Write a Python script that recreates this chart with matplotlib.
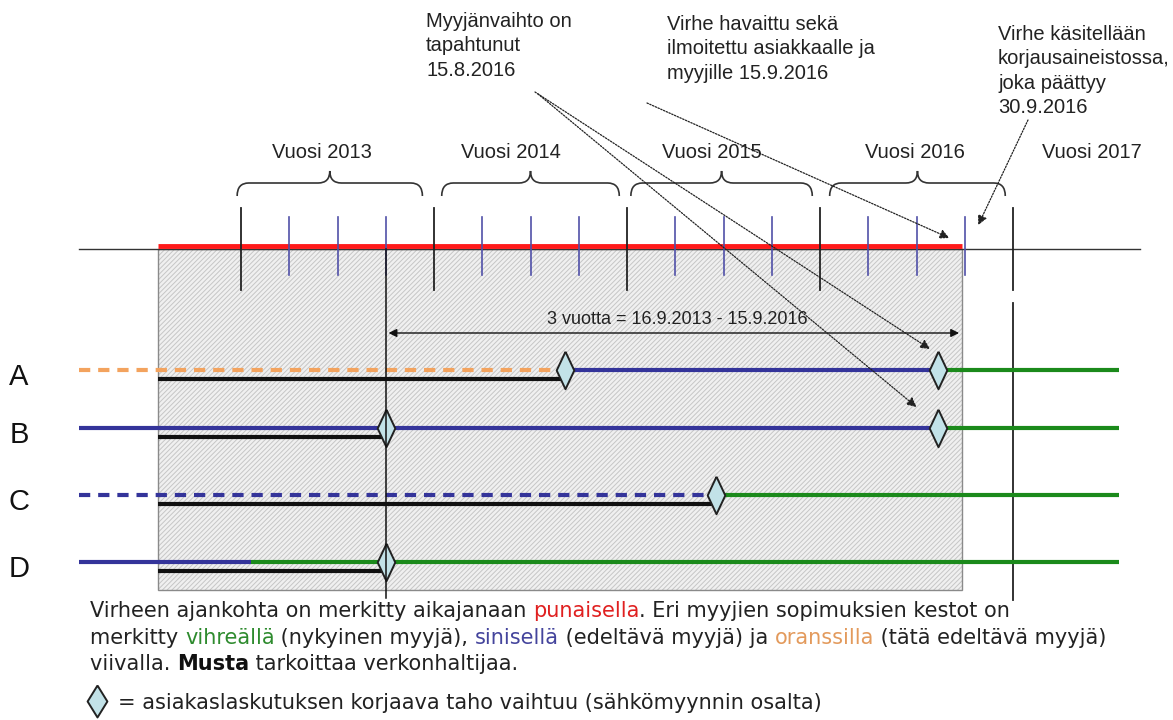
import numpy as np
import matplotlib
matplotlib.use("Agg")
import matplotlib.pyplot as plt
from matplotlib.path import Path
from matplotlib.patches import PathPatch, Rectangle

plt.rcParams['font.family'] = ['Liberation Sans', 'DejaVu Sans']
plt.rcParams['hatch.linewidth'] = 0.7

# aikajana (vuosina)
year_starts = [2013, 2014, 2015, 2016, 2017]
year_labels = ['Vuosi 2013', 'Vuosi 2014', 'Vuosi 2015', 'Vuosi 2016', 'Vuosi 2017']
year_label_x = [2013.42, 2014.40, 2015.44, 2016.49, 2017.41]
brace_spans = [(2012.98, 2013.94), (2014.04, 2014.96), (2015.02, 2015.96), (2016.05, 2016.96)]
quarters = [y + q for y in [2013, 2014, 2015, 2016] for q in (0.25, 0.5, 0.75)]

line_start = 2012.16
line_end = 2017.55
axis_end = 2017.66
error_start = 2012.57
error_end = 2016.735
three_years = 2013.75

# rivit A-D
row_labels = ['A', 'B', 'C', 'D']
row_y = [370, 428, 495, 562]
row_segments = [
    [(line_start, 2014.68, 'orange', True), (2014.68, 2016.61, 'blue', False), (2016.61, line_end, 'green', False)],
    [(line_start, 2016.61, 'blue', False), (2016.61, line_end, 'green', False)],
    [(line_start, 2015.46, 'blue', True), (2015.46, line_end, 'green', False)],
    [(line_start, 2013.05, 'blue', False), (2013.05, line_end, 'green', False)],
]
black_end = [2014.68, 2013.75, 2015.46, 2013.75]
diamonds = [[2014.68, 2016.61], [2013.75, 2016.61], [2015.46], [2013.75]]

colors = {'orange': '#f3a35e', 'blue': '#34349a', 'green': '#1b8a1b', 'red': '#ff1a1a'}
dia = [(0, 1), (0.47, 0), (0, -1), (-0.47, 0), (0, 1)]

fig = plt.figure(figsize=(11.73, 7.2), dpi=100)
px = fig.add_axes([0, 0, 1, 1])
px.set_xlim(0, 1173)
px.set_ylim(720, 0)
px.axis('off')
ax = fig.add_axes([0, 0, 1, 1])
ax.set_xlim(2013 - 241 / 193, 2013 + 932 / 193)
ax.set_ylim(720, 0)
ax.axis('off')

# virhe-alue
ax.add_patch(Rectangle((error_start, 249), error_end - error_start, 341,
                       facecolor='#f0f0f0', edgecolor='#c6c6c6', hatch='///////', lw=0, zorder=1))
ax.add_patch(Rectangle((error_start, 249), error_end - error_start, 341,
                       fill=False, edgecolor='#8a8a8a', lw=1, zorder=2))

# aikajana
ax.plot([line_start, axis_end], [249, 249], color='#333333', lw=1, zorder=3)
ax.plot([error_start, error_end], [246, 246], color=colors['red'], lw=3.5, zorder=4, solid_capstyle='butt')
for y in year_starts:
    ax.plot([y, y], [208, 290], color='#222222', lw=1.3, zorder=5)
ax.plot([2017, 2017], [303, 600], color='#222222', lw=1.3, zorder=5)
for q in quarters:
    ax.plot([q, q], [217, 275], color='#5050a8', lw=1.2, zorder=5)
ax.plot([three_years, three_years], [249, 598], color='#111111', lw=1.1, zorder=8)

# aaltosulkeet
for x0, x1 in brace_spans:
    xc = (x0 + x1) / 2
    r = 0.06
    verts = [(x0, 196), (x0, 183), (x0 + r, 183), (xc - r, 183), (xc, 183), (xc, 171),
             (xc, 183), (xc + r, 183), (x1 - r, 183), (x1, 183), (x1, 196)]
    codes = [Path.MOVETO, Path.CURVE3, Path.CURVE3, Path.LINETO, Path.CURVE3, Path.CURVE3,
             Path.CURVE3, Path.CURVE3, Path.LINETO, Path.CURVE3, Path.CURVE3]
    ax.add_patch(PathPatch(Path(verts, codes), fill=False, edgecolor='#333333', lw=1.2))
for lab, x in zip(year_labels, year_label_x):
    ax.text(x, 152, lab, ha='center', va='center', fontsize=14.5, color='#222222')

# 3 vuotta
ax.annotate('', xy=(error_end, 333), xytext=(three_years, 333),
            arrowprops=dict(arrowstyle='<|-|>', color='#111111', lw=1, mutation_scale=12), zorder=6)
ax.text((three_years + error_end) / 2 + 0.02, 320, '3 vuotta = 16.9.2013 - 15.9.2016',
        ha='center', va='center', fontsize=13, color='#222222', zorder=6)

# rivit
for lab, y, segs, be, ds in zip(row_labels, row_y, row_segments, black_end, diamonds):
    px.text(19, y + 7, lab, ha='center', va='center', fontsize=21, color='#111111')
    for x0, x1, c, dashed in segs:
        if dashed:
            ax.plot([x0, x1], [y, y], color=colors[c], lw=3, dashes=(2.7, 1.9), zorder=6)
        else:
            ax.plot([x0, x1], [y, y], color=colors[c], lw=3, zorder=6, solid_capstyle='butt')
    ax.plot([error_start, be], [y + 9, y + 9], color='#111111', lw=3, zorder=6, solid_capstyle='butt')
    ax.plot(ds, [y] * len(ds), linestyle='none', marker=dia, markersize=27,
            markerfacecolor='#c2e2e8', markeredgecolor='#222222', markeredgewidth=1.4, zorder=7)

# huomautukset
note_kw = dict(ha='left', va='top', fontsize=14.5, color='#222222', linespacing=1.36)
px.text(426, 12, 'Myyjänvaihto on\ntapahtunut\n15.8.2016', **note_kw)
px.text(667, 15, 'Virhe havaittu sekä\nilmoitettu asiakkaalle ja\nmyyjille 15.9.2016', **note_kw)
px.text(998, 25, 'Virhe käsitellään\nkorjausaineistossa,\njoka päättyy\n30.9.2016', **note_kw)

arrow_kw = dict(arrowstyle='-|>', color='#222222', lw=0.9, linestyle=(0, (1.2, 1.2)),
                mutation_scale=14, shrinkA=0, shrinkB=0)
ax.annotate('', xy=(2016.57, 349), xytext=(535, 92), textcoords=px.transData, arrowprops=arrow_kw, zorder=9)
ax.annotate('', xy=(2016.50, 407), xytext=(538, 94), textcoords=px.transData, arrowprops=arrow_kw, zorder=9)
ax.annotate('', xy=(2016.67, 238), xytext=(647, 103), textcoords=px.transData, arrowprops=arrow_kw, zorder=9)
ax.annotate('', xy=(2016.82, 225), xytext=(1028, 120), textcoords=px.transData, arrowprops=arrow_kw, zorder=9)

# selitys
legend_font = ['DejaVu Sans']
legend_size = 15
legend_lines = [
    [('Virheen ajankohta on merkitty aikajanaan ', '#222222', 'normal'), ('punaisella', '#e02020', 'normal'),
     ('. Eri myyjien sopimuksien kestot on', '#222222', 'normal')],
    [('merkitty ', '#222222', 'normal'), ('vihreällä', '#2e8b2e', 'normal'),
     (' (nykyinen myyjä), ', '#222222', 'normal'), ('sinisellä', '#44449c', 'normal'),
     (' (edeltävä myyjä) ja ', '#222222', 'normal'), ('oranssilla', '#e39a5c', 'normal'),
     (' (tätä edeltävä myyjä)', '#222222', 'normal')],
    [('viivalla. ', '#222222', 'normal'), ('Musta', '#111111', 'bold'),
     (' tarkoittaa verkonhaltijaa.', '#222222', 'normal')],
]
legend_y = [617, 644, 670]
for pieces, y in zip(legend_lines, legend_y):
    prev = None
    for s, c, w in pieces:
        if prev is None:
            prev = px.text(90, y, s, ha='left', va='baseline', fontsize=legend_size, color=c,
                           fontweight=w, family=legend_font)
        else:
            prev = px.annotate(s, xy=(1, 0), xycoords=prev, ha='left', va='bottom',
                               fontsize=legend_size, color=c, fontweight=w, family=legend_font)
px.plot([97], [701], linestyle='none', marker=[(0, 1), (0.62, 0), (0, -1), (-0.62, 0), (0, 1)],
        markersize=23, markerfacecolor='#c2e2e8', markeredgecolor='#222222', markeredgewidth=1.4)
px.text(118, 709, '= asiakaslaskutuksen korjaava taho vaihtuu (sähkömyynnin osalta)',
        ha='left', va='baseline', fontsize=legend_size, color='#222222', family=legend_font)

fig.savefig('out.png', dpi=100)
